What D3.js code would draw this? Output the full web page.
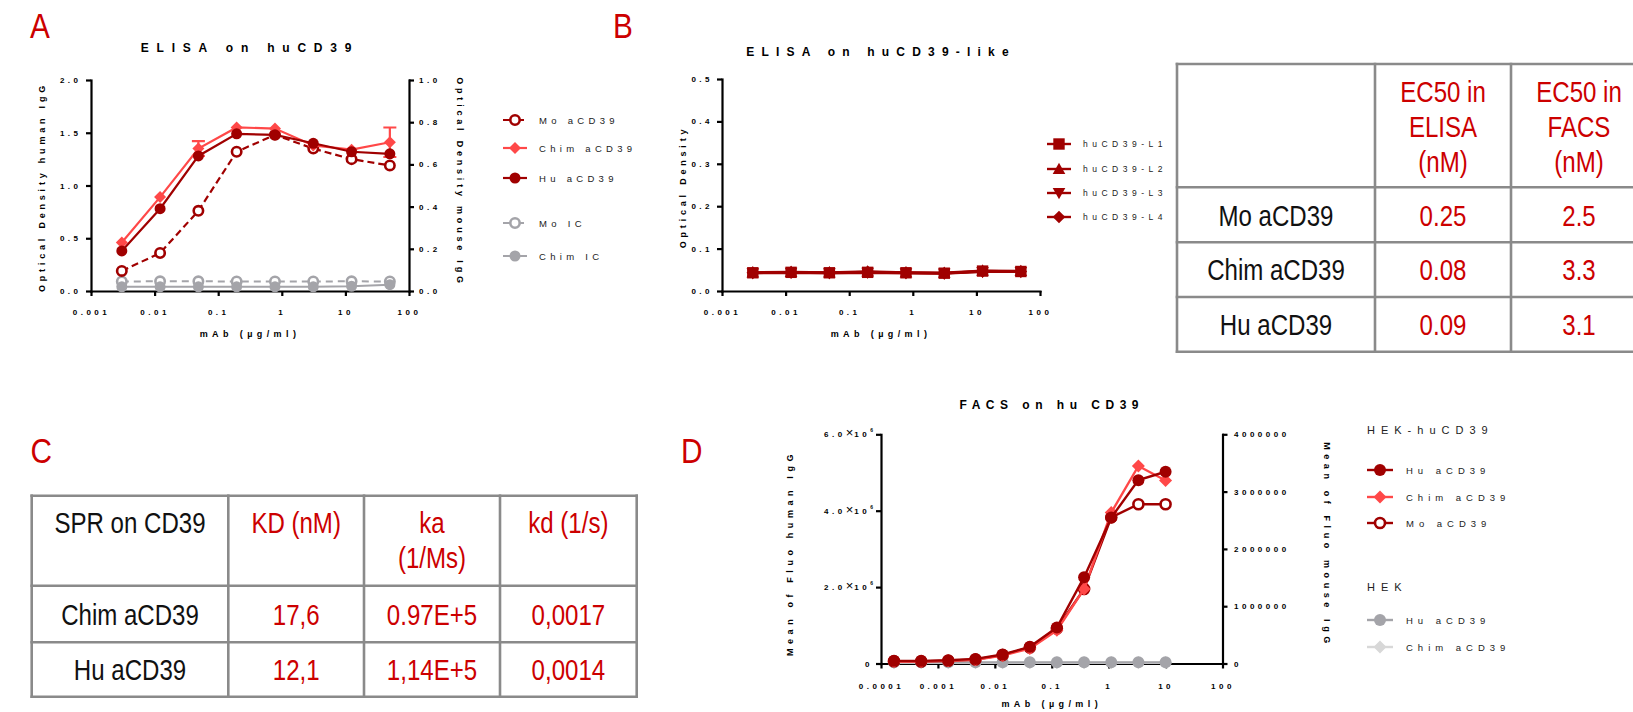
<!DOCTYPE html>
<html>
<title>CD39 binding</title>
<meta charset="UTF-8">
<script src="https://d3js.org/d3.v7.min.js"></script>
<style>
  body { margin: 0; background: #fff; }
  svg { display: block; }
  .plot text { font-family: "Liberation Sans", Arial, sans-serif; }
  .lbl { font-family: "Liberation Sans", Arial, sans-serif; fill: #cc0000; font-size: 35px; }
  .cell { font-family: "Liberation Sans", Arial, sans-serif; font-size: 29px; }
</style>
<body>
<svg id="viz" width="1633" height="712"></svg>
<script>

// ---------- panel A : ELISA on huCD39 ----------
var concA = [0.00305, 0.0122, 0.0488, 0.195, 0.781, 3.125, 12.5, 50];
var aMoCD39 = [0.095, 0.18, 0.38, 0.66, 0.74, 0.675, 0.625, 0.595];   // mouse IgG, right axis
var aChimCD39 = [0.46, 0.89, 1.35, 1.55, 1.54, 1.38, 1.34, 1.41];
var aChimErr = [0, 0, 0.07, 0, 0, 0, 0, 0.14];
var aHuCD39 = [0.38, 0.78, 1.28, 1.49, 1.48, 1.40, 1.32, 1.30];
var aMoIC = [0.045, 0.046, 0.046, 0.045, 0.045, 0.045, 0.046, 0.045];  // right axis
var aChimIC = [0.04, 0.04, 0.04, 0.04, 0.04, 0.04, 0.045, 0.06];
var xTicksA = [0.001, 0.01, 0.1, 1, 10, 100];
var yTicksA = [0, 0.5, 1, 1.5, 2];
var yTicksAR = [0, 0.2, 0.4, 0.6, 0.8, 1];

// ---------- panel B : ELISA on huCD39-like ----------
var concB = [0.00305, 0.0122, 0.0488, 0.195, 0.781, 3.125, 12.5, 50];
var bL1 = [0.043, 0.044, 0.043, 0.044, 0.043, 0.042, 0.047, 0.046];
var bL2 = [0.044, 0.045, 0.044, 0.046, 0.044, 0.043, 0.048, 0.047];
var bL3 = [0.042, 0.043, 0.042, 0.043, 0.042, 0.041, 0.045, 0.045];
var bL4 = [0.043, 0.044, 0.043, 0.045, 0.043, 0.042, 0.046, 0.046];
var yTicksB = [0, 0.1, 0.2, 0.3, 0.4, 0.5];

// EC50 table
var ec50Head = ["", "EC50 in\nELISA\n(nM)", "EC50 in\nFACS\n(nM)"];
var ec50Names = ["Mo aCD39", "Chim aCD39", "Hu aCD39"];
var ec50Elisa = ["0.25", "0.08", "0.09"];
var ec50Facs = ["2.5", "3.3", "3.1"];

// ---------- panel C : SPR ----------
var sprHead = ["SPR on CD39", "KD (nM)", "ka\n(1/Ms)", "kd (1/s)"];
var sprNames = ["Chim aCD39", "Hu aCD39"];
var sprKD = ["17,6", "12,1"];
var sprKa = ["0.97E+5", "1,14E+5"];
var sprKd = ["0,0017", "0,0014"];

// ---------- panel D : FACS on hu CD39 ----------
var concD = [0.000169, 0.000508, 0.00152, 0.00457, 0.0137, 0.0412, 0.123, 0.370, 1.11, 3.33, 10];
var dHuCD39 = [70000, 70000, 87000, 120000, 236000, 437000, 943000, 2260000, 3820000, 4800000, 5020000];
var dChimCD39 = [50000, 50000, 70000, 100000, 210000, 390000, 870000, 1950000, 3950000, 5170000, 4790000];
var dMoCD39 = [40000, 35000, 47000, 70000, 146000, 280000, 610000, 1300000, 2550000, 2780000, 2780000]; // right axis
var dHekHu = [30000, 30000, 30000, 30000, 30000, 30000, 30000, 30000, 30000, 30000, 30000];
var dHekChim = [20000, 20000, 20000, 20000, 20000, 20000, 20000, 20000, 20000, 20000, 20000];
var xTicksD = [0.0001, 0.001, 0.01, 0.1, 1, 10, 100];
var yTicksD = [0, 2e6, 4e6, 6e6];
var yTicksDR = [0, 1e6, 2e6, 3e6, 4e6];

var darkRed = "#a00000", lightRed = "#ff4848", grey = "#a4a4a9", lightGrey = "#d8d8d8";
var textRed = "#cc0000";
var narrow = 0.83;   // horizontal squeeze to mimic a narrow font

var svg = d3.select("#viz");

function shape(type, r) {
  if (type == "square") return "M" + (-r) + "," + (-r) + "H" + r + "V" + r + "H" + (-r) + "Z";
  if (type == "diamond") return "M0," + (-r) + "L" + r + ",0L0," + r + "L" + (-r) + ",0Z";
  if (type == "up") return "M0," + (-r) + "L" + r + "," + (0.8 * r) + "L" + (-r) + "," + (0.8 * r) + "Z";
  if (type == "down") return "M0," + r + "L" + r + "," + (-0.8 * r) + "L" + (-r) + "," + (-0.8 * r) + "Z";
}

function markers(g, pts, s, x, y) {
  if (s.marker == "circle" || s.marker == "open") {
    var open = s.marker == "open";
    g.selectAll(null).data(pts).join("circle")
      .attr("cx", function(d) { return x(d[0]); })
      .attr("cy", function(d) { return y(d[1]); })
      .attr("r", open ? s.r - 1.3 : s.r)
      .attr("fill", open ? "#fff" : s.color)
      .attr("stroke", open ? s.color : "none")
      .attr("stroke-width", 2.6);
  } else {
    g.selectAll(null).data(pts).join("path")
      .attr("transform", function(d) { return "translate(" + x(d[0]) + "," + y(d[1]) + ")"; })
      .attr("d", shape(s.marker, s.r))
      .attr("fill", s.color);
  }
}

function spaced(g, txt, x, y, size, ls, weight) {
  return g.append("text").attr("x", x).attr("y", y)
    .attr("font-size", size).attr("font-weight", weight || "normal")
    .attr("dominant-baseline", "central")
    .style("letter-spacing", ls + "px")
    .text(txt);
}

function styleAxis(g) {
  g.attr("font-family", "Liberation Sans, Arial, sans-serif");
  g.select(".domain").attr("stroke", "#000").attr("stroke-width", 2.2).attr("stroke-linecap", "square");
  g.selectAll(".tick line").attr("stroke", "#000").attr("stroke-width", 2.2);
  g.selectAll(".tick text").attr("font-size", 8).attr("font-weight", "bold")
    .attr("fill", "#000").style("letter-spacing", "3.5px");
}

function drawPlot(p) {
  var g = svg.append("g").attr("class", "plot");
  var x = d3.scaleLog().domain([p.xTicks[0], p.xTicks[p.xTicks.length - 1]]).range([p.left, p.right]);
  var y = d3.scaleLinear().domain([p.yTicks[0], p.yTicks[p.yTicks.length - 1]]).range([p.bottom, p.top]);
  var yR = null;
  if (p.yTicksR) {
    yR = d3.scaleLinear().domain([p.yTicksR[0], p.yTicksR[p.yTicksR.length - 1]]).range([p.bottom, p.top]);
  }

  var gx = g.append("g").attr("transform", "translate(0," + p.bottom + ")")
    .call(d3.axisBottom(x).tickValues(p.xTicks).tickFormat(function(d) { return String(d); })
      .tickSize(5).tickSizeOuter(0).tickPadding(p.xPad));
  styleAxis(gx);

  var gy = g.append("g").attr("transform", "translate(" + p.left + ",0)")
    .call(d3.axisLeft(y).tickValues(p.yTicks).tickFormat(p.yFormat)
      .tickSize(5).tickSizeOuter(0).tickPadding(p.yPad));
  styleAxis(gy);
  if (p.yLabels) p.yLabels(gy);

  if (yR) {
    var gr = g.append("g").attr("transform", "translate(" + p.right + ",0)")
      .call(d3.axisRight(yR).tickValues(p.yTicksR).tickFormat(p.yFormatR)
        .tickSize(5).tickSizeOuter(0).tickPadding(p.yPadR));
    styleAxis(gr);
  }

  // titles
  spaced(g, p.title, (p.left + p.right) / 2, p.titleY, 12, p.titleLs, "bold").attr("text-anchor", "middle");
  spaced(g, "mAb (µg/ml)", (p.left + p.right) / 2, p.xTitleY, 9, 4.4, "bold").attr("text-anchor", "middle");
  spaced(g, p.yTitle, 0, 0, 9, p.yTitleLs, "bold").attr("text-anchor", "middle")
    .attr("transform", "translate(" + p.yTitleX + "," + p.yTitleCy + ") rotate(-90)");
  if (p.yTitleR) {
    spaced(g, p.yTitleR, 0, 0, 9, p.yTitleLs, "bold").attr("text-anchor", "middle")
      .attr("transform", "translate(" + p.yTitleRX + "," + p.yTitleRCy + ") rotate(90)");
  }

  // series
  p.series.forEach(function(s) {
    var ys = s.right ? yR : y;
    var pts = p.conc.map(function(c, i) { return [c, s.values[i], s.err ? s.err[i] : 0]; });
    var sg = g.append("g");
    sg.append("path").datum(pts)
      .attr("d", d3.line().x(function(d) { return x(d[0]); }).y(function(d) { return ys(d[1]); }))
      .attr("fill", "none").attr("stroke", s.color).attr("stroke-width", s.lw)
      .attr("stroke-dasharray", s.dash || null);
    if (s.err) {
      var eb = pts.filter(function(d) { return d[2] > 0; });
      sg.selectAll(null).data(eb).join("path")
        .attr("d", function(d) {
          var cx = x(d[0]), y1 = ys(d[1] + d[2]), y2 = ys(d[1] - d[2]);
          return "M" + cx + "," + y1 + "V" + y2 + "M" + (cx - 6.5) + "," + y1 + "H" + (cx + 6.5) +
            "M" + (cx - 6.5) + "," + y2 + "H" + (cx + 6.5);
        })
        .attr("stroke", s.color).attr("stroke-width", 2.2).attr("fill", "none");
    }
    markers(sg, pts, s, x, ys);
  });

  // legend
  var lg = g.append("g");
  p.legend.forEach(function(item) {
    if (item.head) {
      spaced(lg, item.head, p.legX0, item.y, 11, 6).attr("fill", "#222");
      return;
    }
    var s = item.s;
    lg.append("line").attr("x1", p.legX0).attr("x2", p.legX0 + p.legLen)
      .attr("y1", item.y).attr("y2", item.y)
      .attr("stroke", s.color).attr("stroke-width", s.lw)
      .attr("stroke-dasharray", s.dash ? "9,3" : null);
    var cx = p.legX0 + p.legLen / 2;
    markers(lg, [[0, 0]], s, function() { return cx; }, function() { return item.y; });
    spaced(lg, s.name, p.legTextX, item.y, p.legSize, p.legLs).attr("fill", "#222");
  });
}

// ---------- panel A ----------
var sMoA = { name: "Mo aCD39", values: aMoCD39, right: true, color: darkRed, marker: "open", r: 6, lw: 2.2, dash: "7,4" };
var sChimA = { name: "Chim aCD39", values: aChimCD39, err: aChimErr, color: lightRed, marker: "diamond", r: 6, lw: 2.2 };
var sHuA = { name: "Hu aCD39", values: aHuCD39, color: darkRed, marker: "circle", r: 5.5, lw: 2.2 };
var sMoICA = { name: "Mo IC", values: aMoIC, right: true, color: grey, marker: "open", r: 6, lw: 2, dash: "7,5" };
var sChimICA = { name: "Chim IC", values: aChimIC, color: grey, marker: "circle", r: 5.5, lw: 2 };

drawPlot({
  conc: concA, xTicks: xTicksA, yTicks: yTicksA, yTicksR: yTicksAR,
  yFormat: d3.format(".1f"), yFormatR: d3.format(".1f"),
  left: 91, right: 409, top: 80, bottom: 291, xPad: 13, yPad: 4.5, yPadR: 5,
  title: "ELISA on huCD39", titleY: 48, titleLs: 7.8, xTitleY: 334,
  yTitle: "Optical Density human IgG", yTitleX: 42, yTitleCy: 187, yTitleLs: 3.8,
  yTitleR: "Optical Density mouse IgG", yTitleRX: 460, yTitleRCy: 182,
  series: [sMoICA, sChimICA, sMoA, sChimA, sHuA],
  legX0: 503, legLen: 24, legTextX: 539, legSize: 9.5, legLs: 4.3,
  legend: [{ s: sMoA, y: 120 }, { s: sChimA, y: 148 }, { s: sHuA, y: 178 },
           { s: sMoICA, y: 223 }, { s: sChimICA, y: 256 }]
});

// ---------- panel B ----------
var sL1 = { name: "huCD39-L1", values: bL1, color: darkRed, marker: "square", r: 5.7, lw: 2.4 };
var sL2 = { name: "huCD39-L2", values: bL2, color: darkRed, marker: "up", r: 6.3, lw: 2.4 };
var sL3 = { name: "huCD39-L3", values: bL3, color: darkRed, marker: "down", r: 6.3, lw: 2.4 };
var sL4 = { name: "huCD39-L4", values: bL4, color: darkRed, marker: "diamond", r: 6.3, lw: 2.4 };

drawPlot({
  conc: concB, xTicks: xTicksA, yTicks: yTicksB,
  yFormat: d3.format(".1f"),
  left: 722, right: 1040, top: 79, bottom: 291, xPad: 13, yPad: 4,
  title: "ELISA on huCD39-like", titleY: 52, titleLs: 7.2, xTitleY: 334,
  yTitle: "Optical Density", yTitleX: 683, yTitleCy: 187, yTitleLs: 3.8,
  series: [sL4, sL3, sL2, sL1],
  legX0: 1047, legLen: 24, legTextX: 1083, legSize: 8.5, legLs: 4.5,
  legend: [{ s: sL1, y: 144 }, { s: sL2, y: 169 }, { s: sL3, y: 193 }, { s: sL4, y: 217 }]
});

// ---------- panel D ----------
var sHuD = { name: "Hu aCD39", values: dHuCD39, color: darkRed, marker: "circle", r: 6, lw: 2.4 };
var sChimD = { name: "Chim aCD39", values: dChimCD39, color: lightRed, marker: "diamond", r: 6.5, lw: 2.4 };
var sMoD = { name: "Mo aCD39", values: dMoCD39, right: true, color: darkRed, marker: "open", r: 6.3, lw: 2.4 };
var sHekHu = { name: "Hu aCD39", values: dHekHu, color: grey, marker: "circle", r: 6, lw: 2.4 };
var sHekChim = { name: "Chim aCD39", values: dHekChim, color: lightGrey, marker: "diamond", r: 6.5, lw: 2.4 };

drawPlot({
  conc: concD, xTicks: xTicksD, yTicks: yTicksD, yTicksR: yTicksDR,
  yFormat: function() { return ""; }, yFormatR: d3.format("d"),
  yLabels: function(gy) {
    gy.selectAll(".tick text").each(function(d) {
      var t = d3.select(this);
      if (d == 0) { t.text("0"); return; }
      t.append("tspan").text((d / 1e6).toFixed(1));
      t.append("tspan").attr("font-weight", "normal").attr("font-size", 13).style("letter-spacing", "1px").text("×");
      t.append("tspan").text("10");
      t.append("tspan").attr("font-size", 5).attr("dy", -5).style("letter-spacing", "0px").text("6");
    });
  },
  left: 881, right: 1222.5, top: 434.3, bottom: 663.5, xPad: 14.6, yPad: 3, yPadR: 6.5,
  title: "FACS on hu CD39", titleY: 405, titleLs: 5.5, xTitleY: 704,
  yTitle: "Mean of Fluo human IgG", yTitleX: 790, yTitleCy: 553, yTitleLs: 4.6,
  yTitleR: "Mean of Fluo mouse IgG", yTitleRX: 1327, yTitleRCy: 545,
  series: [sHekChim, sHekHu, sMoD, sChimD, sHuD],
  legX0: 1367, legLen: 26, legTextX: 1406, legSize: 9.5, legLs: 5,
  legend: [{ head: "HEK-huCD39", y: 430 }, { s: sHuD, y: 470 }, { s: sChimD, y: 497 }, { s: sMoD, y: 523 },
           { head: "HEK", y: 587 }, { s: sHekHu, y: 620 }, { s: sHekChim, y: 647 }]
});

// ---------- tables ----------
function cellText(g, txt, cx, cy, color) {
  g.append("text").attr("class", "cell")
    .attr("transform", "translate(" + cx + "," + cy + ") scale(" + narrow + ",1)")
    .attr("text-anchor", "middle").attr("dominant-baseline", "central")
    .attr("fill", color).text(txt);
}

function drawTable(t) {
  var g = svg.append("g");
  var xs = t.xs, ys = t.ys;
  g.selectAll(null).data(xs).join("line")
    .attr("x1", function(d) { return d; }).attr("x2", function(d) { return d; })
    .attr("y1", ys[0]).attr("y2", ys[ys.length - 1]);
  g.selectAll(null).data(ys).join("line")
    .attr("y1", function(d) { return d; }).attr("y2", function(d) { return d; })
    .attr("x1", xs[0]).attr("x2", xs[xs.length - 1]);
  g.selectAll("line").attr("stroke", "#8a8a8a").attr("stroke-width", 2.6).attr("stroke-linecap", "square");

  t.head.forEach(function(h, c) {
    var lines = h.split("\n");
    var cx = (xs[c] + xs[c + 1]) / 2;
    lines.forEach(function(ln, k) {
      var cy = t.headTop ? ys[0] + 28 + k * 35
                         : (ys[0] + ys[1]) / 2 + 1.5 + (k - (lines.length - 1) / 2) * 35;
      cellText(g, ln, cx, cy, c == 0 ? "#111" : textRed);
    });
  });

  t.rows.forEach(function(row, r) {
    var cy = (ys[r + 1] + ys[r + 2]) / 2 + 1;
    row.forEach(function(val, c) {
      cellText(g, val, (xs[c] + xs[c + 1]) / 2, cy, c == 0 ? "#111" : textRed);
    });
  });
}

drawTable({
  xs: [1177, 1375, 1511, 1647], ys: [64, 187.3, 242.3, 297, 351.7],
  head: ec50Head,
  rows: ec50Names.map(function(n, i) { return [n, ec50Elisa[i], ec50Facs[i]]; })
});

drawTable({
  xs: [31.7, 228.3, 364, 500, 636.7], ys: [495.7, 585.7, 642.3, 696.7], headTop: true,
  head: sprHead,
  rows: sprNames.map(function(n, i) { return [n, sprKD[i], sprKa[i], sprKd[i]]; })
});

// panel letters
var letters = [["A", 30, 38], ["B", 613, 38], ["C", 30.6, 463], ["D", 681, 463]];
svg.selectAll("text.lbl").data(letters).join("text").attr("class", "lbl")
  .attr("transform", function(d) { return "translate(" + d[1] + "," + d[2] + ") scale(0.85,1)"; })
  .text(function(d) { return d[0]; });

</script>
</body>
</html>
